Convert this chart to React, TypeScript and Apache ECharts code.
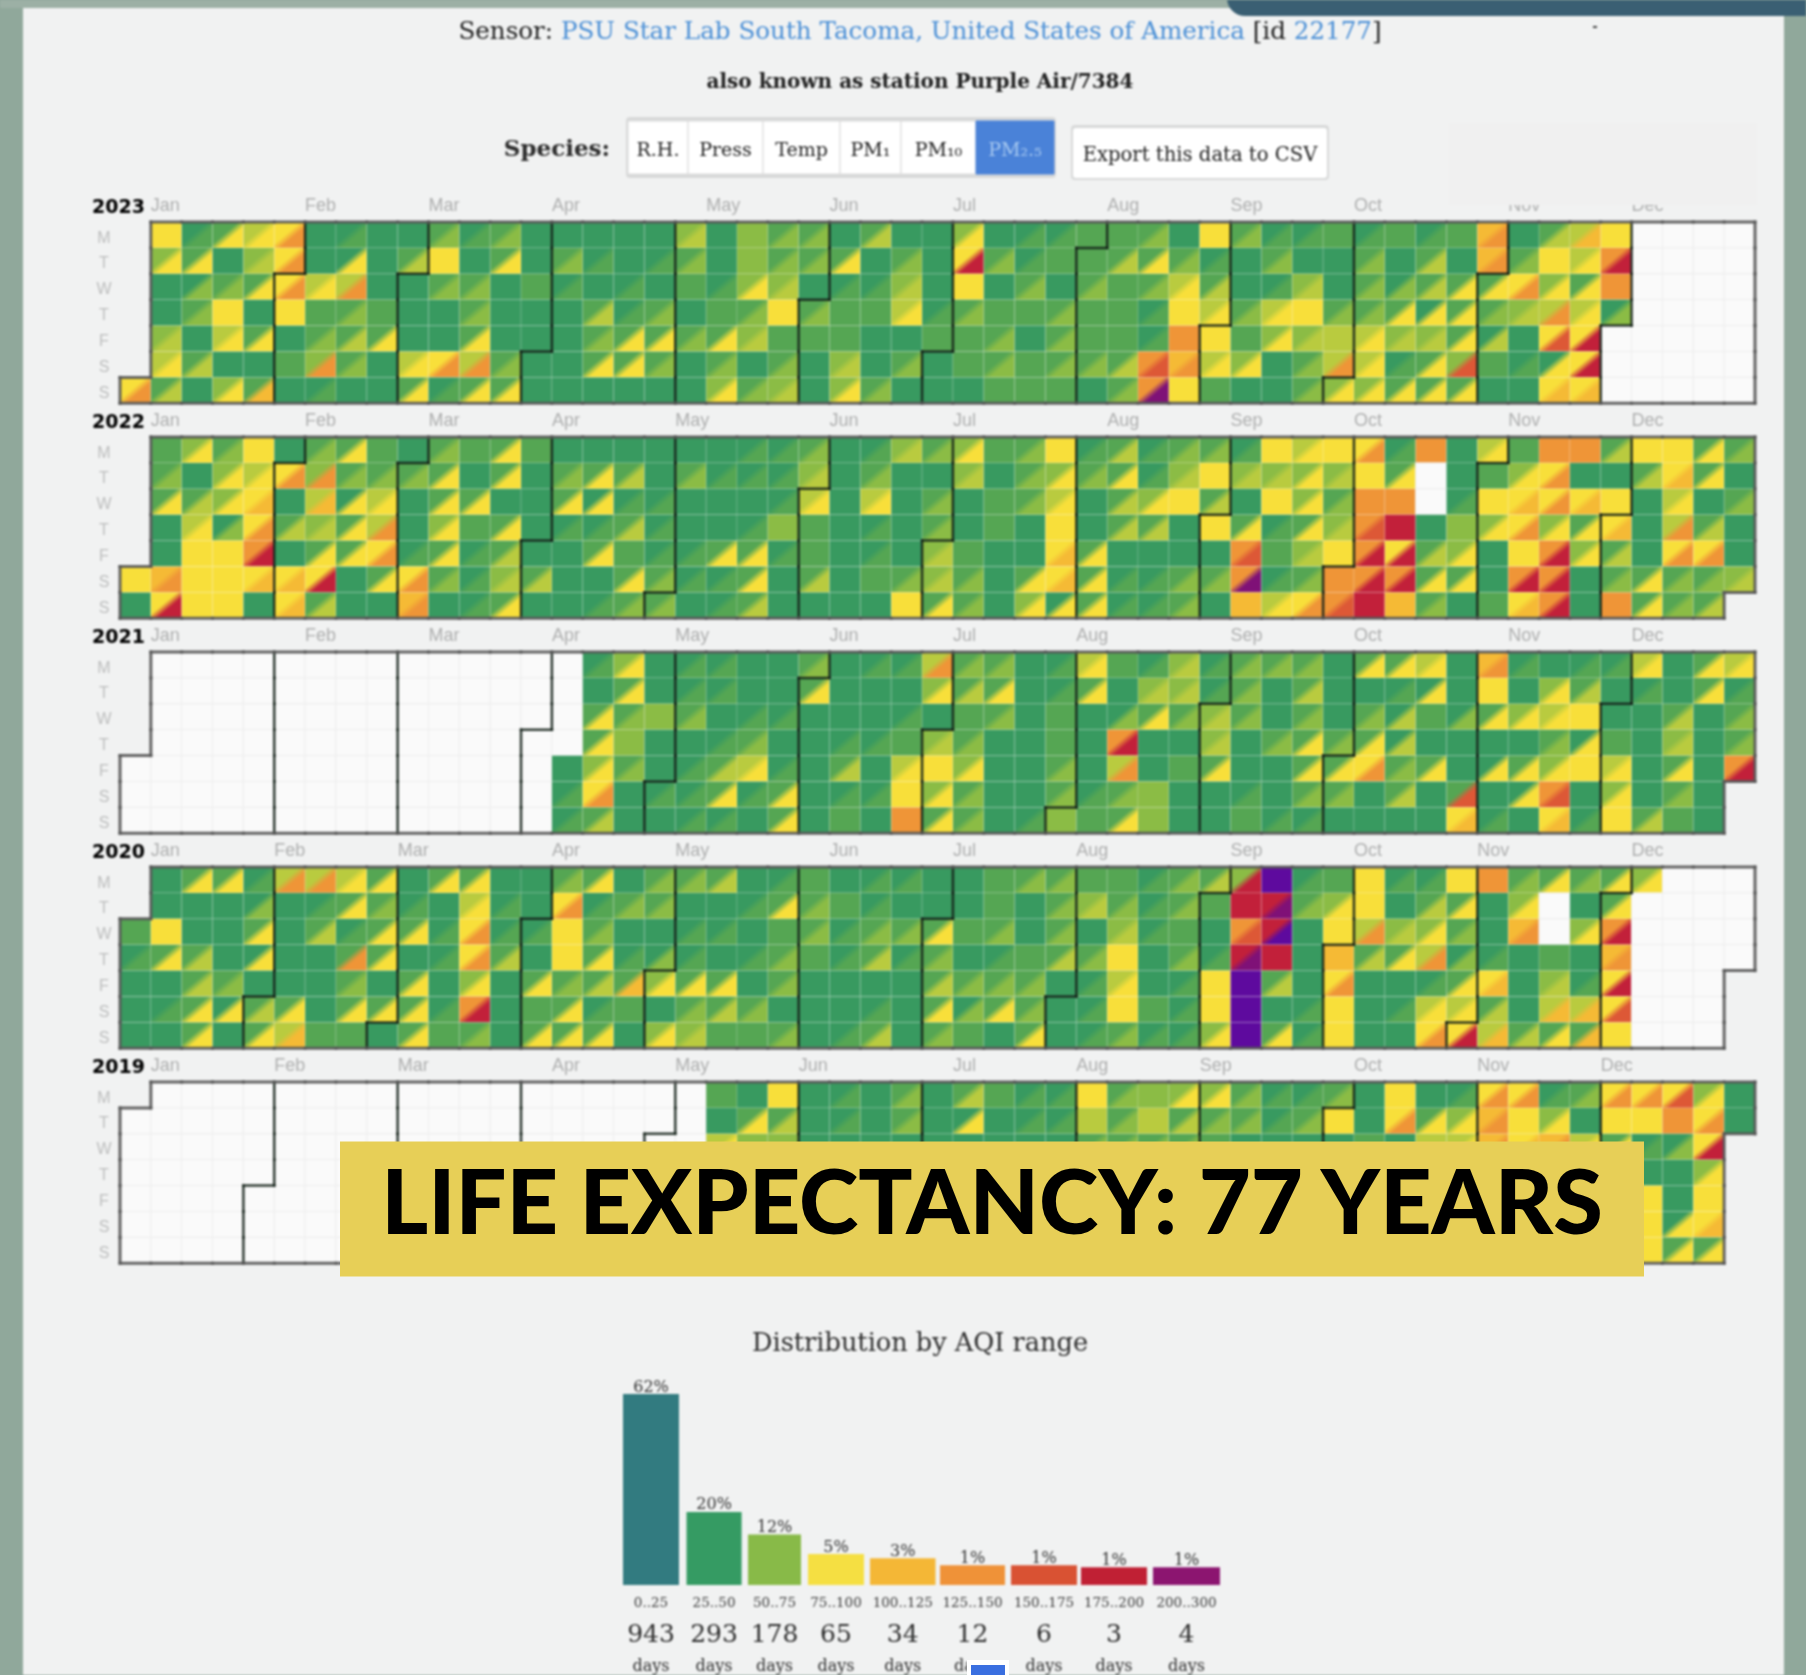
import React, { useEffect, useRef } from "react";
import * as echarts from "echarts";

// ---------- data ----------
const years = [2023, 2022, 2021, 2020, 2019];
const monthNames = ["Jan", "Feb", "Mar", "Apr", "May", "Jun", "Jul", "Aug", "Sep", "Oct", "Nov", "Dec"];
const monthCols: Record<number, number[]> = {
  2023: [1, 6, 10, 14, 19, 23, 27, 32, 36, 40, 45, 49],
  2022: [1, 6, 10, 14, 18, 23, 27, 32, 36, 40, 45, 49],
  2021: [1, 6, 10, 14, 18, 23, 27, 31, 36, 40, 45, 49],
  2020: [1, 5, 9, 14, 18, 23, 27, 31, 36, 40, 44, 49],
  2019: [1, 5, 9, 14, 18, 22, 27, 31, 35, 40, 44, 48],
};
const weekdays = ["M", "T", "W", "T", "F", "S", "S"];

// each token: upper-left level + lower-right level of one day; ".." = no reading
const blank = (n: number) => ".. ".repeat(n);
const days2023 = [
  ".. 44 01 14 34 46 00 01 00 00 12 01 12 00 00 00 00 00 23 00 22 12 12 00 13 00 00 24 00 01 01 11 11 12 00 44 12 01 01 11 01 11 01 11 56 00 13 35 44",
  ".. 24 14 00 23 46 00 04 00 13 44 00 14 00 12 01 00 01 12 00 22 12 12 14 00 12 00 48 12 01 11 11 13 14 12 01 00 12 00 00 12 00 13 00 56 12 44 34 68",
  ".. 00 02 12 14 46 34 36 00 00 12 12 00 11 01 00 01 00 11 01 24 23 00 01 01 23 00 44 00 12 00 12 11 12 34 13 00 01 23 00 12 02 13 14 14 46 24 14 66",
  ".. 00 12 44 00 44 11 12 11 00 00 12 00 00 00 13 01 12 00 11 12 44 12 11 11 34 01 12 11 11 12 11 11 01 44 34 12 34 44 12 12 14 04 14 12 23 36 34 02",
  ".. 23 00 34 14 00 12 13 14 00 00 14 00 00 00 12 14 14 12 14 23 11 11 11 00 00 11 11 12 00 12 11 11 01 66 44 11 24 23 33 34 23 23 14 03 00 47 48",
  ".. 34 13 00 00 11 26 12 00 34 46 36 12 00 00 14 14 12 00 12 00 12 00 23 00 12 00 11 12 11 12 12 13 67 56 34 24 00 12 36 34 01 14 27 11 01 04 48",
  "46 13 00 24 15 00 01 00 00 14 01 14 14 00 00 00 00 00 00 24 12 23 00 24 12 00 00 00 11 11 11 00 12 69 44 11 00 00 12 24 24 14 14 14 00 00 45 45",
];
const days2022 = [
  ".. 11 24 12 44 00 12 14 11 00 12 11 14 11 00 00 00 00 00 00 01 01 12 00 01 23 12 24 11 12 44 01 13 01 12 12 01 44 34 44 46 01 66 00 34 11 66 66 13 44 44 14 12",
  ".. 12 00 24 34 46 26 12 12 12 14 00 14 00 12 14 13 00 12 01 01 01 23 00 12 00 00 23 00 12 24 12 14 01 23 44 23 23 24 23 44 14 .. 00 11 24 46 00 00 13 45 14 00",
  ".. 14 13 24 45 00 35 04 34 00 14 14 00 00 14 04 01 01 00 00 00 01 34 00 34 00 12 00 11 12 34 00 13 24 44 13 00 44 24 12 66 66 .. 01 44 45 46 45 44 00 34 00 12",
  ".. 00 34 02 46 13 23 14 36 00 24 11 14 00 01 01 13 01 00 00 01 22 11 00 01 00 12 00 11 00 44 00 13 13 00 44 14 01 14 23 67 88 00 22 24 46 24 14 45 00 36 13 00",
  ".. 00 44 44 68 00 14 14 46 01 14 01 13 00 00 14 11 01 01 14 14 01 11 00 01 00 23 11 00 00 45 14 00 00 00 00 67 11 23 44 68 48 13 24 00 44 68 24 13 00 46 46 00",
  "44 56 44 44 45 45 48 00 14 46 12 01 23 13 00 00 14 12 01 01 14 00 13 00 11 12 23 12 00 14 45 14 01 01 12 12 69 01 12 66 68 68 14 14 00 68 68 00 12 14 12 12 23",
  "00 48 44 44 00 45 13 00 00 56 00 01 14 00 00 01 12 12 00 01 13 00 00 00 00 44 14 12 00 24 04 14 01 01 12 00 55 34 46 67 88 55 12 00 11 45 68 00 66 14 12 13",
];
const days2021 = [
  blank(15) + "01 24 00 01 01 00 00 12 00 01 01 36 12 12 00 01 34 11 01 23 01 12 12 12 00 14 14 34 00 56 01 00 01 01 34 00 14 34",
  blank(15) + "00 14 00 01 01 00 00 14 00 00 00 24 13 14 00 01 14 00 23 23 01 12 00 13 00 00 01 04 00 44 00 24 13 00 01 00 14 01",
  blank(15) + "14 12 22 12 00 01 01 00 00 00 01 00 11 12 00 11 00 02 14 12 23 12 00 12 00 12 03 11 02 14 24 34 44 00 00 13 00 12",
  blank(15) + "14 22 00 00 01 12 00 00 01 01 11 23 12 00 00 11 00 68 00 00 23 00 12 14 12 14 03 00 00 00 00 12 04 11 00 23 00 12",
  blank(14) + "00 24 12 00 01 13 34 01 00 13 00 34 44 24 00 00 12 00 36 00 11 14 00 00 14 14 46 12 14 00 04 14 24 44 34 00 14 00 68",
  blank(14) + "01 46 00 01 01 14 01 14 00 01 01 44 24 12 00 00 12 01 12 22 00 00 01 00 12 12 00 13 00 17 00 04 67 00 24 00 12 00",
  blank(14) + "01 13 00 00 01 01 00 14 00 11 00 66 14 12 00 01 22 11 14 22 00 00 11 01 01 00 00 00 00 45 01 00 45 01 44 13 11 00",
];
const days2020 = [
  ".. 00 14 14 01 36 36 34 14 00 14 14 00 00 12 14 00 12 12 13 00 01 11 00 01 01 00 00 11 12 12 11 11 01 12 13 28 vv 01 11 44 01 01 44 66 12 14 12 14 24",
  ".. 00 00 00 02 00 01 14 12 01 00 34 01 00 46 01 12 12 00 00 01 14 12 11 01 00 00 00 11 00 12 23 12 01 12 11 88 89 12 24 44 00 13 14 00 24 .. 00 14",
  "11 44 00 00 14 00 13 01 14 14 01 46 01 01 44 12 00 00 01 01 00 11 12 01 12 12 14 11 12 00 12 00 23 01 11 00 67 8v 00 44 36 23 24 12 00 56 .. 24 68",
  "01 14 13 00 04 00 00 16 14 00 01 46 13 00 44 14 01 02 01 00 01 12 11 01 13 01 12 00 01 11 13 12 44 00 12 01 89 88 00 55 13 14 36 02 01 00 11 00 56",
  "00 00 13 12 00 00 00 12 00 14 00 24 00 14 12 13 15 24 14 14 00 12 00 00 00 00 13 12 12 12 00 01 34 00 01 44 vv 13 00 46 00 00 01 14 45 00 23 01 48",
  "00 01 14 04 13 14 00 14 14 14 01 68 00 11 14 01 11 00 12 13 12 00 00 00 01 00 14 02 14 12 00 01 44 11 01 44 vv 00 01 44 00 01 34 34 13 00 35 35 47",
  "00 00 14 00 14 35 11 11 00 14 11 12 00 14 14 14 00 24 23 11 11 12 00 01 13 00 12 11 00 14 00 01 12 01 01 24 vv 14 01 44 00 00 46 48 35 13 14 15 44",
];
const days2019 = [
  blank(19) + "11 00 44 00 01 00 12 00 13 11 01 01 44 12 22 24 24 12 01 01 12 00 44 00 01 46 46 01 12 46 46 47 24 00",
  blank(19) + "00 14 13 00 01 00 12 00 04 00 01 01 33 12 33 13 12 12 01 12 44 00 46 14 24 56 44 24 00 44 44 66 46 00",
  blank(19) + "34 22 22 00 00 00 00 00 00 00 00 00 12 12 12 12 11 00 00 00 00 11 00 33 34 56 45 56 34 14 01 02 48",
  blank(49) + "00 00 24",
  blank(49) + "44 00 44",
  blank(49) + "44 04 45",
  blank(49) + "44 14 14",
];
const daysByYear: Record<number, string[]> = { 2023: days2023, 2022: days2022, 2021: days2021, 2020: days2020, 2019: days2019 };

const binRanges = ["0..25", "25..50", "50..75", "75..100", "100..125", "125..150", "150..175", "175..200", "200..300"];
const binDays = [943, 293, 178, 65, 34, 12, 6, 3, 4];
const binPctLabels = ["62%", "20%", "12%", "5%", "3%", "1%", "1%", "1%", "1%"];
const binBarValues = [62, 20, 12, 5, 3.5, 1, 1, 0.3, 0.3];
const speciesLabels = ["R.H.", "Press", "Temp", "PM₁", "PM₁₀", "PM₂.₅"];

// ---------- style ----------
const LEVELS = "0123456789v";
const levelColors = ["#389a60", "#55a653", "#8bbc45", "#b9cb3f", "#f8df3a", "#f5ba35", "#ef9537", "#dd5836", "#c2203a", "#7f1177", "#5e0a9e"];
const binColors = ["#327b80", "#359b63", "#88ba48", "#f5df42", "#f4b736", "#ef9238", "#d95233", "#c02034", "#8c1570"];
const binEdges = [623, 686.5, 748, 808, 870, 940, 1011, 1081, 1153];
const binRight = [679, 741.6, 801, 864, 935.5, 1005, 1077, 1147, 1220];
const BAR_FLOOR = 6;
const SERIF = '"DejaVu Serif", serif';
const SANS = '"Liberation Sans", Arial, sans-serif';
const yearTops = [222, 437, 652, 867, 1082];
const GRID_LEFT = 120;
const GRID_W = 1635;
const GRID_H = 181.3;
const btnEdges = [628, 688, 763, 840, 901, 976, 1054];

function yearDays(year: number) {
  const first = Date.UTC(year, 0, 1);
  const dow = (new Date(first).getUTCDay() + 6) % 7;
  const out: { col: number; row: number; month: number }[] = [];
  for (let d = 0; ; d++) {
    const dt = new Date(first + d * 864e5);
    if (dt.getUTCFullYear() !== year) break;
    out.push({ col: Math.floor((d + dow) / 7), row: (d + dow) % 7, month: dt.getUTCMonth() });
  }
  return out;
}

function cellData(year: number) {
  const rows = daysByYear[year].map((r) => r.trim().split(/\s+/));
  return yearDays(year).map(({ col, row }) => {
    const tok = rows[row][col] || "..";
    return [col, row, LEVELS.indexOf(tok[0]), LEVELS.indexOf(tok[1])];
  });
}

function edgeData(year: number) {
  const ds = yearDays(year);
  const out: number[][] = [];
  ds.forEach((day, d) => {
    const { col: c, row: r, month } = day;
    const sides: [number | null, number[], boolean][] = [
      [d - 7, [c, r, c, r + 1], false],
      [d + 7, [c + 1, r, c + 1, r + 1], true],
      [r > 0 ? d - 1 : null, [c, r, c + 1, r], false],
      [r < 6 ? d + 1 : null, [c, r + 1, c + 1, r + 1], true],
    ];
    for (const [n, seg, primary] of sides) {
      const nb = n === null ? undefined : ds[n];
      if (!nb) out.push([...seg, 1]);
      else if (nb.month !== month && primary) out.push([...seg, 0]);
    }
  });
  return out;
}

function renderCell(_p: any, api: any) {
  const c = api.value(0);
  const r = api.value(1);
  const a = api.value(2);
  const b = api.value(3);
  const tl = api.coord([c, r]);
  const br = api.coord([c + 1, r + 1]);
  const shape = { x: tl[0], y: tl[1], width: br[0] - tl[0], height: br[1] - tl[1] };
  if (a < 0) {
    return { type: "rect", shape, style: { fill: "#fafafa", stroke: "#eeeeee", lineWidth: 1 } };
  }
  const ca = levelColors[a];
  const cb = levelColors[b];
  return {
    type: "group",
    children: [
      {
        type: "rect",
        shape,
        style: {
          fill: a === b
            ? ca
            : {
                type: "linear",
                x: 0,
                y: 0,
                x2: 1,
                y2: 1,
                colorStops: [
                  { offset: 0, color: ca },
                  { offset: 0.42, color: ca },
                  { offset: 0.6, color: cb },
                  { offset: 1, color: cb },
                ],
              },
        },
      },
      { type: "rect", shape, style: { fill: "none", stroke: "rgba(255,255,255,0.13)", lineWidth: 1.3 } },
    ],
  };
}

function renderEdge(_p: any, api: any) {
  const p1 = api.coord([api.value(0), api.value(1)]);
  const p2 = api.coord([api.value(2), api.value(3)]);
  const outer = api.value(4) === 1;
  return {
    type: "line",
    shape: { x1: p1[0], y1: p1[1], x2: p2[0], y2: p2[1] },
    style: {
      stroke: outer ? "rgba(85,85,85,0.9)" : "rgba(15,28,20,0.85)",
      lineWidth: outer ? 3 : 2.5,
      lineCap: "square",
    },
  };
}

function buildMainOption() {
  const grid: any[] = [];
  const xAxis: any[] = [];
  const yAxis: any[] = [];
  const series: any[] = [];

  years.forEach((year, i) => {
    grid.push({ left: GRID_LEFT, top: yearTops[i], width: GRID_W, height: GRID_H });
    xAxis.push({
      type: "value",
      gridIndex: i,
      min: 0,
      max: 53,
      interval: 1,
      position: "top",
      axisLine: { show: false },
      axisTick: { show: false },
      splitLine: { show: false },
      axisLabel: {
        show: true,
        align: "left",
        margin: 8,
        color: "#aeafaf",
        fontFamily: SANS,
        fontSize: 18,
        formatter: (v: number) => {
          const k = monthCols[year].indexOf(v);
          return k >= 0 ? monthNames[k] : "";
        },
      },
    });
    yAxis.push({
      type: "value",
      gridIndex: i,
      min: 0,
      max: 7,
      interval: 1,
      inverse: true,
      axisLine: { show: false },
      axisTick: { show: false },
      splitLine: { show: false },
      axisLabel: {
        show: true,
        align: "center",
        verticalAlign: "top",
        margin: 16,
        padding: [7, 0, 0, 0],
        color: "#bcbdbd",
        fontFamily: SANS,
        fontSize: 16,
        formatter: (v: number) => weekdays[v] || "",
      },
    });
    series.push({
      type: "custom",
      xAxisIndex: i,
      yAxisIndex: i,
      data: cellData(year),
      encode: { x: 0, y: 1 },
      renderItem: renderCell,
      silent: true,
      z: 2,
    });
    series.push({
      type: "custom",
      xAxisIndex: i,
      yAxisIndex: i,
      data: edgeData(year),
      encode: { x: [0, 2], y: [1, 3] },
      renderItem: renderEdge,
      silent: true,
      clip: false,
      z: 3,
    });
  });

  binRanges.forEach((range, k) => {
    const gi = years.length + k;
    grid.push({ left: binEdges[k], width: binRight[k] - binEdges[k], top: 1394, height: 191 });
    xAxis.push({
      type: "category",
      gridIndex: gi,
      data: [range],
      axisLine: { show: false },
      axisTick: { show: false },
      axisLabel: {
        interval: 0,
        margin: 6,
        formatter: () => `{r|${range}}\n{n|${binDays[k]}}\n{d|days}`,
        rich: {
          r: { fontFamily: SERIF, fontSize: 13.5, color: "#3c3c3c", lineHeight: 22, width: 80, align: "center" },
          n: { fontFamily: SERIF, fontSize: 25, color: "#2e2e2e", lineHeight: 40, align: "center" },
          d: { fontFamily: SERIF, fontSize: 16, color: "#2e2e2e", lineHeight: 24, align: "center" },
        },
      },
    });
    yAxis.push({ type: "value", gridIndex: gi, min: 0, max: 62 + BAR_FLOOR, show: false });
    series.push({
      type: "bar",
      xAxisIndex: gi,
      yAxisIndex: gi,
      barWidth: "100%",
      data: [binBarValues[k] + BAR_FLOOR],
      itemStyle: { color: binColors[k] },
      silent: true,
      label: {
        show: true,
        position: "top",
        distance: 0,
        formatter: () => binPctLabels[k],
        fontFamily: SERIF,
        fontSize: 16,
        color: "#333",
      },
    });
  });

  const graphic: any[] = [
    { type: "rect", z: -5, shape: { x: 23, y: 8, width: 1761, height: 1667 }, style: { fill: "#f1f2f2" } },
    { type: "rect", z: -4, shape: { x: 0, y: 0, width: 1806, height: 8 }, style: { fill: "#9cb0a5" } },
    { type: "rect", z: 50, shape: { x: 1227, y: -20, width: 600, height: 36, r: 20 }, style: { fill: "#3a5f73" } },
    { type: "rect", z: 50, shape: { x: 1449, y: 123, width: 308, height: 82 }, style: { fill: "#f0f0f0" } },
    { type: "rect", z: 51, shape: { x: 1593, y: 26, width: 4, height: 2 }, style: { fill: "#444" } },
    {
      type: "text",
      x: 920,
      y: 30,
      z: 10,
      style: {
        text: "{d|Sensor: }{l|PSU Star Lab South Tacoma, United States of America}{d| [id }{l|22177}{d|]}",
        align: "center",
        verticalAlign: "middle",
        rich: {
          d: { fontFamily: SERIF, fontSize: 24.6, fill: "#1f1f1f" },
          l: { fontFamily: SERIF, fontSize: 24.6, fill: "#4a8fd6" },
        },
      },
    },
    {
      type: "text",
      x: 920,
      y: 81,
      z: 10,
      style: { text: "also known as station Purple Air/7384", fontFamily: SERIF, fontSize: 20, fontWeight: "bold", fill: "#222", align: "center", verticalAlign: "middle" },
    },
    {
      type: "text",
      x: 610,
      y: 147,
      z: 10,
      style: { text: "Species:", fontFamily: SERIF, fontSize: 23, fill: "#2c2c2c", align: "right", verticalAlign: "middle", fontWeight: "bold" },
    },
    { type: "rect", z: 8, shape: { x: 626, y: 117, width: 430, height: 61, r: 4 }, style: { fill: "#d8d9d9" } },
    { type: "rect", z: 8, shape: { x: 1071, y: 125, width: 258, height: 55, r: 4 }, style: { fill: "#d8d9d9" } },
    { type: "rect", z: 9, shape: { x: 1073, y: 128, width: 254, height: 50, r: 3 }, style: { fill: "#ffffff" } },
    {
      type: "text",
      x: 1200,
      y: 154,
      z: 10,
      style: { text: "Export this data to CSV", fontFamily: SERIF, fontSize: 19.6, fill: "#1f1f1f", align: "center", verticalAlign: "middle" },
    },
    {
      type: "text",
      x: 920,
      y: 1342,
      z: 10,
      style: { text: "Distribution by AQI range", fontFamily: SERIF, fontSize: 25.6, fill: "#2e2e2e", align: "center", verticalAlign: "middle" },
    },
  ];

  speciesLabels.forEach((label, k) => {
    const active = k === speciesLabels.length - 1;
    graphic.push({
      type: "rect",
      z: 9,
      shape: { x: btnEdges[k], y: 121, width: btnEdges[k + 1] - btnEdges[k], height: 53 },
      style: { fill: active ? "#4a82d8" : "#ffffff", stroke: active ? "#4a82d8" : "#dcdcdc", lineWidth: 1 },
    });
    graphic.push({
      type: "text",
      x: (btnEdges[k] + btnEdges[k + 1]) / 2,
      y: 149,
      z: 10,
      style: { text: label, fontFamily: SERIF, fontSize: 19, fill: active ? "#a6c8f0" : "#1f1f1f", align: "center", verticalAlign: "middle" },
    });
  });

  years.forEach((year, i) => {
    graphic.push({
      type: "text",
      x: 92,
      y: yearTops[i] - 16,
      z: 10,
      style: { text: String(year), fontFamily: '"DejaVu Sans", sans-serif', fontSize: 19, fontWeight: "bold", fill: "#000", align: "left", verticalAlign: "middle" },
    });
  });

  return { animation: false, backgroundColor: "transparent", grid, xAxis, yAxis, series, graphic };
}

function buildOverlayOption() {
  return {
    animation: false,
    backgroundColor: "transparent",
    graphic: [
      { type: "rect", z: 1, shape: { x: 340, y: 1141.5, width: 1304, height: 135 }, style: { fill: "#e7cf57" } },
      {
        type: "text",
        x: 992,
        y: 1199,
        z: 2,
        style: { text: "LIFE EXPECTANCY: 77 YEARS", fontFamily: "Lato", fontWeight: 900, fontSize: 90, fill: "#000", align: "center", verticalAlign: "middle" },
      },
      { type: "rect", z: 1, shape: { x: 967, y: 1660, width: 42, height: 15 }, style: { fill: "#ffffff" } },
      { type: "rect", z: 2, shape: { x: 971, y: 1665, width: 34, height: 10 }, style: { fill: "#3a6fe0" } },
    ],
  };
}

export default function App() {
  const mainRef = useRef<HTMLDivElement>(null);
  const overlayRef = useRef<HTMLDivElement>(null);
  useEffect(() => {
    document.body.style.margin = "0";
    const main = echarts.init(mainRef.current!, undefined, { renderer: "svg" });
    main.setOption(buildMainOption());
    const overlay = echarts.init(overlayRef.current!, undefined, { renderer: "svg" });
    overlay.setOption(buildOverlayOption());
    return () => {
      main.dispose();
      overlay.dispose();
    };
  }, []);
  return (
    <div style={{ position: "relative", width: 1806, height: 1675, overflow: "hidden", background: "#90a89b" }}>
      <div ref={mainRef} style={{ position: "absolute", left: 0, top: 0, width: 1806, height: 1675, filter: "blur(0.8px)" }} />
      <div ref={overlayRef} style={{ position: "absolute", left: 0, top: 0, width: 1806, height: 1675 }} />
    </div>
  );
}
